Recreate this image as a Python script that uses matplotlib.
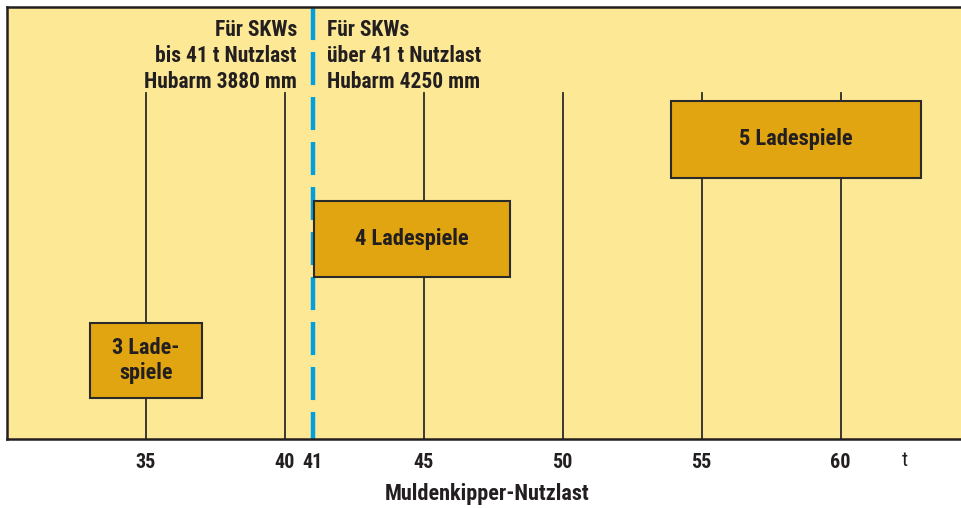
import matplotlib
matplotlib.use("Agg")
import matplotlib.pyplot as plt
from matplotlib.patches import Rectangle

plt.rcParams['font.family'] = ['Roboto Condensed', 'DejaVu Sans']
plt.rcParams['lines.scale_dashes'] = False

# data
tick_values = [35, 40, 41, 45, 50, 55, 60]
tick_labels = ["35", "40", "41", "45", "50", "55", "60"]
grid_lines = [35, 40, 45, 50, 55, 60]
limit_value = 41
box_labels = ["3 Lade-\nspiele", "4 Ladespiele", "5 Ladespiele"]
box_x0 = [33.0, 41.05, 53.9]
box_x1 = [37.0, 48.1, 62.9]
box_y0 = [41, 162, 261]
box_y1 = [116, 238, 338]
grid_top = 346
left_text = "Für SKWs\nbis 41 t Nutzlast\nHubarm 3880 mm"
right_text = "Für SKWs\nüber 41 t Nutzlast\nHubarm 4250 mm"
xlabel = "Muldenkipper-Nutzlast"
unit = "t"

W, H = 962, 508
fig = plt.figure(figsize=(W / 100, H / 100), dpi=100)
ax = fig.add_axes([7 / W, (H - 439) / H, (W - 7) / W, 432 / H])
ax.set_facecolor('#FDE995')
ax.set_xlim(30.0, 64.37)
ax.set_ylim(0, 432)

for x in grid_lines:
    ax.plot([x, x], [0, grid_top], color='#2a2a2a', lw=1.3, zorder=1)

ax.plot([limit_value, limit_value], [432, 0], color='#00A0E0', lw=3.2,
        linestyle=(0, (23.8, 8.6)), zorder=2, solid_capstyle='butt',
        dash_capstyle='butt')

box_sizes = [16, 16.2, 16.2]
for lab, x0, x1, y0, y1, fs in zip(box_labels, box_x0, box_x1, box_y0, box_y1, box_sizes):
    ax.add_patch(Rectangle((x0, y0), x1 - x0, y1 - y0, facecolor='#E0A510',
                           edgecolor='#2a2a2a', lw=1.5, zorder=3))
    ax.text((x0 + x1) / 2, (y0 + y1) / 2, lab, ha='center', va='center',
            fontsize=fs, fontweight='bold', color='#231f20', zorder=4,
            linespacing=1.15)

ax.text(40.43, 420, left_text, ha='right', va='top', fontsize=15.5,
        fontweight='bold', color='#231f20', linespacing=1.25)
ax.text(41.5, 420, right_text, ha='left', va='top', fontsize=15.5,
        fontweight='bold', color='#231f20', linespacing=1.25)

ax.set_xticks(tick_values)
ax.set_xticklabels(tick_labels, fontsize=14.5, fontweight='bold', color='#231f20')
ax.set_yticks([])
ax.tick_params(axis='x', length=0, pad=10)
ax.text(62.3, -22, unit, ha='center', va='center', fontsize=15,
        color='#231f20')
ax.set_xlabel(xlabel, fontsize=16, fontweight='bold', color='#231f20')
ax.xaxis.set_label_coords((487 - 7) / (W - 7), -44 / 432)

for s in ['left', 'top', 'bottom']:
    ax.spines[s].set_color('#231f20')
    ax.spines[s].set_linewidth(1.8)
ax.spines['right'].set_visible(False)

fig.savefig('out.png', dpi=100, facecolor='white')
